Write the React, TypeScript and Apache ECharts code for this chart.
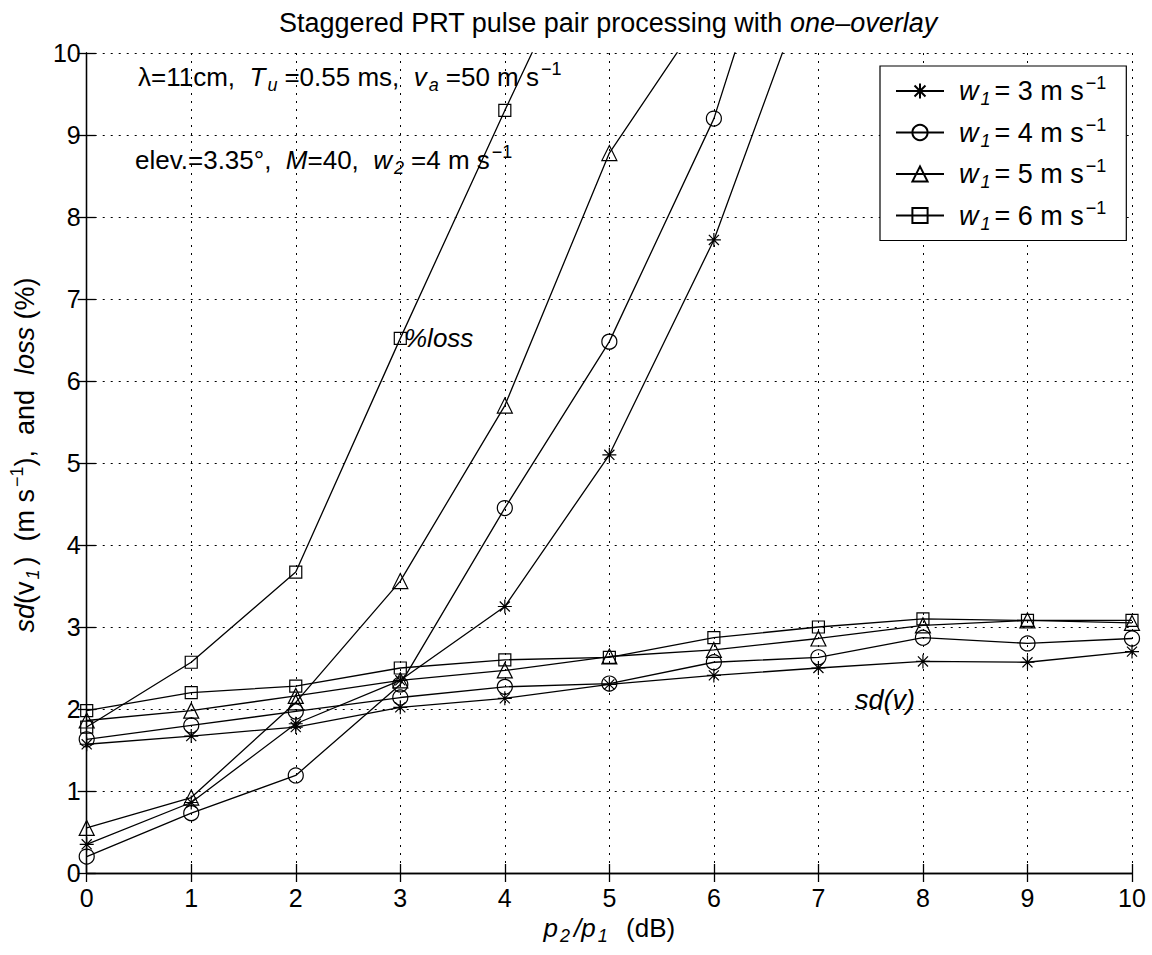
import React, { useEffect, useRef } from "react";
import * as echarts from "echarts";

// ---- data ----
const X_DB = [0, 1, 2, 3, 4, 5, 6, 7, 8, 9, 10];
const X_TICKS = [0, 1, 2, 3, 4, 5, 6, 7, 8, 9, 10];
const Y_TICKS = [0, 1, 2, 3, 4, 5, 6, 7, 8, 9, 10];
const W1_VALUES = [3, 4, 5, 6];

// sd(v1) curves (m/s)
const SD_W3 = [1.57, 1.67, 1.78, 2.02, 2.13, 2.3, 2.41, 2.5, 2.58, 2.57, 2.7];
const SD_W4 = [1.63, 1.8, 1.97, 2.14, 2.27, 2.31, 2.57, 2.63, 2.87, 2.8, 2.86];
const SD_W5 = [1.86, 1.98, 2.16, 2.35, 2.47, 2.64, 2.72, 2.86, 3.02, 3.08, 3.05];
const SD_W6 = [1.98, 2.2, 2.28, 2.5, 2.6, 2.63, 2.87, 3.0, 3.1, 3.08, 3.08];

// loss curves (%) — values above 10 run off the top of the plot
const LOSS_W3 = [0.35, 0.86, 1.82, 2.35, 3.25, 5.1, 7.72, 11.2];
const LOSS_W4 = [0.2, 0.73, 1.19, 2.3, 4.45, 6.48, 9.2, 13.2];
const LOSS_W5 = [0.55, 0.92, 2.08, 3.56, 5.7, 8.78, 10.67];
const LOSS_W6 = [1.78, 2.57, 3.67, 6.52, 9.3, 12.0];

const FONT = "'Liberation Sans', Arial, Helvetica, sans-serif";

const STAR = "path://M0,-1L0,1M-1,0L1,0M-0.72,-0.72L0.72,0.72M-0.72,0.72L0.72,-0.72";
const MARKERS = [
  { symbol: STAR, size: 14 },
  { symbol: "circle", size: 15 },
  { symbol: "triangle", size: 15 },
  { symbol: "rect", size: 12 },
];

function makeRich(fs: number, subPadRight = 4) {
  const small = Math.round(fs * 0.68);
  const base = { fontFamily: FONT, color: "#000", fontWeight: "normal" as const };
  return {
    n: { ...base, fontSize: fs, lineHeight: 34, verticalAlign: "middle" },
    i: { ...base, fontSize: fs, lineHeight: 34, verticalAlign: "middle", fontStyle: "italic" },
    li: { ...base, fontSize: fs, lineHeight: 34, verticalAlign: "middle", fontStyle: "italic", padding: [0, 0, 0, 10] },
    yi: { ...base, fontSize: fs, lineHeight: 34, verticalAlign: "middle", fontStyle: "italic", padding: [0, 0, 0, 16] },
    b: { ...base, fontSize: small, lineHeight: 3, verticalAlign: "bottom", fontStyle: "italic", padding: [0, subPadRight, 0, 2] },
    p: { ...base, fontSize: small, lineHeight: 7, verticalAlign: "top", padding: [0, 0, 0, 2] },
  };
}
const R_ANN = makeRich(26, 7);
const R26 = makeRich(26);
const R27 = makeRich(27);

function seriesName(w: number) {
  return "w1=" + w;
}

export default function App() {
  const ref = useRef<HTMLDivElement>(null);
  useEffect(() => {
    if (!ref.current) return;
    const chart = echarts.init(ref.current, null, { renderer: "svg" });
    const sdSets = [SD_W3, SD_W4, SD_W5, SD_W6];
    const lossSets = [LOSS_W3, LOSS_W4, LOSS_W5, LOSS_W6];
    const mk = (idx: number, ys: number[]) => ({
      type: "line",
      name: seriesName(W1_VALUES[idx]),
      data: ys.map((y, i) => [X_DB[i], y]),
      symbol: MARKERS[idx].symbol,
      symbolSize: MARKERS[idx].size,
      showAllSymbol: true,
      clip: true,
      lineStyle: { color: "#000", width: 1.3 },
      itemStyle: { color: "rgba(0,0,0,0)", borderColor: "#000", borderWidth: 1.2 },
      emphasis: { disabled: true },
      z: 3,
    });
    const series: any[] = [];
    W1_VALUES.forEach((_, k) => {
      series.push(mk(k, sdSets[k]));
      series.push(mk(k, lossSets[k]));
    });

    const axisCommon = {
      type: "value",
      min: X_TICKS[0],
      max: X_TICKS[X_TICKS.length - 1],
      interval: 1,
      axisLine: { show: true, lineStyle: { color: "#000", width: 1.3 } },
      axisTick: { show: true, inside: true, length: 9, lineStyle: { color: "#000", width: 1.3 } },
    };

    chart.setOption({
      animation: false,
      backgroundColor: "#fff",
      textStyle: { fontFamily: FONT },
      title: {
        text: "{n|Staggered PRT pulse pair processing with }{i|one–overlay}",
        left: 608,
        top: 6,
        padding: 0,
        textAlign: "center",
        textStyle: { rich: R27, fontWeight: "normal" },
      },
      grid: { left: 85, right: 20, top: 53, bottom: 82, containLabel: false },
      legend: {
        orient: "vertical",
        left: 880,
        top: 66,
        data: W1_VALUES.map((w) => seriesName(w)),
        itemWidth: 48,
        itemHeight: 19,
        itemGap: 7.5,
        padding: [8, 20, 8, 15],
        backgroundColor: "#fff",
        borderColor: "#000",
        borderWidth: 1.2,
        selectedMode: false,
        formatter: (name: string) => {
          const w = name.replace("w1=", "");
          return "{li|w}{b|1}{n|= " + w + " m s}{p|−1}";
        },
        textStyle: { rich: R27 },
        z: 10,
      },
      xAxis: [
        {
          ...axisCommon,
          position: "bottom",
          name: "{i|p}{b|2}{i|/p}{b|1}{n|  (dB)}",
          nameLocation: "middle",
          nameGap: 37,
          nameTextStyle: { rich: R26 },
          axisLabel: {
            show: true,
            margin: 12,
            color: "#000",
            fontFamily: FONT,
            fontSize: 25,
            formatter: (v: number) => (X_TICKS.includes(v) ? String(v) : ""),
          },
          splitLine: { show: true, lineStyle: { color: "#000", width: 1, type: [2, 6] } },
        },
        {
          ...axisCommon,
          position: "top",
          axisLabel: { show: false },
          splitLine: { show: false },
        },
      ],
      yAxis: [
        {
          ...axisCommon,
          min: Y_TICKS[0],
          max: Y_TICKS[Y_TICKS.length - 1],
          position: "left",
          name: "{yi|sd}{n|(v}{b|1}{n|)  (m s}{p|−1}{n|),  and  }{i|loss}{n| (%)}",
          nameLocation: "middle",
          nameGap: 35,
          nameTextStyle: { rich: R27 },
          axisLabel: {
            show: true,
            margin: 6,
            color: "#000",
            fontFamily: FONT,
            fontSize: 25,
            formatter: (v: number) => (Y_TICKS.includes(v) ? String(v) : ""),
          },
          splitLine: { show: true, lineStyle: { color: "#000", width: 1, type: [2, 6] } },
        },
        {
          ...axisCommon,
          min: Y_TICKS[0],
          max: Y_TICKS[Y_TICKS.length - 1],
          position: "right",
          axisLabel: { show: false },
          splitLine: { show: false },
        },
      ],
      graphic: [
        {
          type: "text",
          left: 138,
          top: 60,
          z: 5,
          style: {
            text: "{n|λ=11cm,  }{i|T}{b|u}{n|=0.55 ms,  }{i|v}{b|a}{n|=50 m s}{p|−1}",
            rich: R_ANN,
          },
        },
        {
          type: "text",
          left: 135,
          top: 143,
          z: 5,
          style: {
            text: "{n|elev.=3.35°,  }{i|M}{n|=40,  }{i|w}{b|2}{n|=4 m s}{p|−1}",
            rich: R_ANN,
          },
        },
        {
          type: "text",
          left: 404,
          top: 325,
          z: 5,
          style: { text: "{i|%loss}", rich: R26 },
        },
        {
          type: "text",
          left: 855,
          top: 686,
          z: 5,
          style: { text: "{i|sd(v)}", rich: R27 },
        },
      ],
      series,
    });
    return () => chart.dispose();
  }, []);
  return (
    <div
      ref={ref}
      style={{ position: "fixed", left: 0, top: 0, width: 1152, height: 955, background: "#fff" }}
    />
  );
}
